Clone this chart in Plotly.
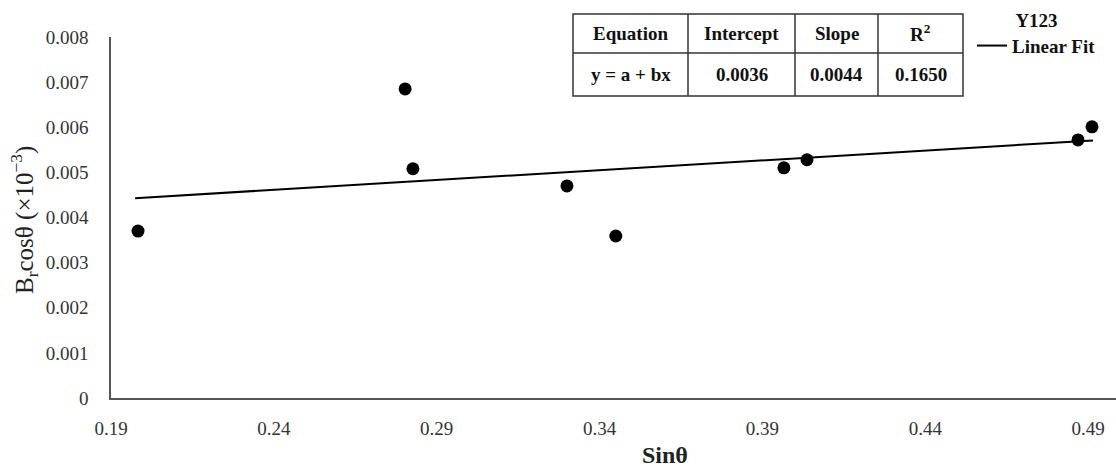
import plotly.graph_objects as go

# ---- data ----
sin_theta = [0.1983, 0.2803, 0.2827, 0.3300, 0.3450, 0.3966, 0.4037, 0.4869, 0.4912]
br_cos_theta = [0.00370, 0.00685, 0.00508, 0.00470, 0.00359, 0.00510, 0.00528, 0.00572, 0.00601]
fit_intercept = 0.00357
fit_slope = 0.00435
fit_x = [0.1974, 0.4915]

x_ticks = [0.19, 0.24, 0.29, 0.34, 0.39, 0.44, 0.49]
y_ticks = [0, 0.001, 0.002, 0.003, 0.004, 0.005, 0.006, 0.007, 0.008]
y_tick_labels = ["0", "0.001", "0.002", "0.003", "0.004", "0.005", "0.006", "0.007", "0.008"]

table_header = ["Equation", "Intercept", "Slope", "R<sup>2</sup>"]
table_row = ["y = a + bx", "0.0036", "0.0044", "0.1650"]

# ---- layout geometry ----
W, H = 1116, 472
ML, MR, MT, MB = 111, 0, 37, 74
PW, PH = W - ML - MR, H - MT - MB


def px(xp):
    return (xp - ML) / PW


def py(yp):
    return (H - MB - yp) / PH


FONT = "Liberation Serif"
fit_y = [fit_intercept + fit_slope * v for v in fit_x]

fig = go.Figure()
fig.add_trace(go.Scatter(
    x=sin_theta, y=br_cos_theta, mode="markers",
    marker=dict(color="black", size=13), showlegend=False,
))
fig.add_trace(go.Scatter(
    x=fit_x, y=fit_y, mode="lines", name="<b>Linear Fit</b>",
    line=dict(color="black", width=2), showlegend=True,
))

# ---- table drawn with shapes and annotations ----
col_edges = [573, 688, 795, 878, 963]
row_edges = [14, 53, 96]
shapes = []
shapes.append(dict(type="rect", xref="paper", yref="paper",
                   x0=px(col_edges[0]), x1=px(col_edges[-1]),
                   y0=py(row_edges[-1]), y1=py(row_edges[0]),
                   line=dict(color="#333333", width=1.5), fillcolor="white", layer="above"))
for c in col_edges[1:-1]:
    shapes.append(dict(type="line", xref="paper", yref="paper",
                       x0=px(c), x1=px(c), y0=py(row_edges[-1]), y1=py(row_edges[0]),
                       line=dict(color="#333333", width=1.5), layer="above"))
shapes.append(dict(type="line", xref="paper", yref="paper",
                   x0=px(col_edges[0]), x1=px(col_edges[-1]), y0=py(row_edges[1]), y1=py(row_edges[1]),
                   line=dict(color="#333333", width=1.5), layer="above"))

annotations = []
for i in range(4):
    cx = (col_edges[i] + col_edges[i + 1]) / 2
    for r, txt in enumerate([table_header[i], table_row[i]]):
        cy = (row_edges[r] + row_edges[r + 1]) / 2
        annotations.append(dict(x=px(cx), y=py(cy), xref="paper", yref="paper",
                                text="<b>" + txt + "</b>", showarrow=False,
                                xanchor="center", yanchor="middle",
                                font=dict(family=FONT, size=19, color="#111111")))

# y axis title
annotations.append(dict(x=px(24), y=py(220), xref="paper", yref="paper",
                        text="B<sub>r</sub>cosθ (×10<sup>−3</sup>)", textangle=-90,
                        showarrow=False, xanchor="center", yanchor="middle",
                        font=dict(family=FONT, size=25, color="#222222")))
# x axis title
annotations.append(dict(x=px(665), y=py(455), xref="paper", yref="paper",
                        text="<b>Sinθ</b>", showarrow=False,
                        xanchor="center", yanchor="middle",
                        font=dict(family=FONT, size=24, color="#222222")))

fig.update_layout(
    width=W, height=H,
    margin=dict(l=ML, r=MR, t=MT, b=MB),
    plot_bgcolor="white", paper_bgcolor="white",
    font=dict(family=FONT, size=19, color="#333333"),
    shapes=shapes, annotations=annotations,
    legend=dict(
        x=px(972), y=py(2), xanchor="left", yanchor="top",
        bgcolor="rgba(0,0,0,0)", itemwidth=30,
        title=dict(text="<b>Y123</b>", side="top center",
                   font=dict(family=FONT, size=19, color="#111111")),
        font=dict(family=FONT, size=19, color="#111111"),
    ),
    xaxis=dict(
        range=[0.19, 0.19 + PW / 3257.0], tickvals=x_ticks,
        ticktext=[f"{v:.2f}" for v in x_ticks],
        showgrid=False, zeroline=False, showline=True,
        linecolor="#555555", linewidth=1.5, ticks="", ticklabelstandoff=12,
        tickfont=dict(family=FONT, size=19, color="#333333"),
    ),
    yaxis=dict(
        range=[0, 0.008], tickvals=y_ticks, ticktext=y_tick_labels,
        showgrid=False, zeroline=False, showline=True,
        linecolor="#555555", linewidth=1.5, ticks="", ticklabelstandoff=17,
        tickfont=dict(family=FONT, size=19, color="#333333"),
    ),
)

fig.write_html("out.html", config={"displayModeBar": False},
               post_script="document.body.style.margin='0';document.body.style.overflow='hidden';")
